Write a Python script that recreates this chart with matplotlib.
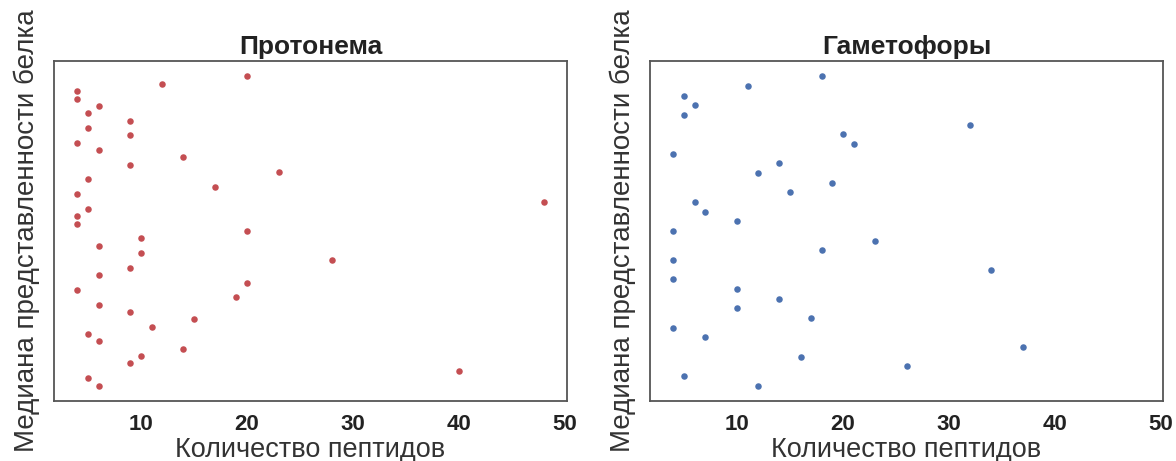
import numpy as np
import matplotlib
matplotlib.use('Agg')
import matplotlib.pyplot as plt

plt.rcParams['font.family'] = ['Liberation Sans', 'DejaVu Sans']

# Number of peptides per protein, listed from top (highest median) to bottom
protonema_peptides = [20, 12, 4, 4, 6, 5, 9, 5, 9, 4, 6, 14, 9, 23, 5, 17, 4, 48,
                      5, 4, 4, 20, 10, 6, 10, 28, 9, 6, 20, 4, 19, 6, 9, 15, 11,
                      5, 6, 14, 10, 9, 40, 5, 6]
gametophore_peptides = [18, 11, 5, 6, 5, 32, 20, 21, 4, 14, 12, 19, 15, 6, 7, 10,
                        4, 23, 18, 4, 34, 4, 10, 14, 10, 17, 4, 7, 37, 16, 26, 5, 12]

titles = ['Протонема', 'Гаметофоры']
colors = ['#C44E52', '#4C72B0']
xticks = [10, 20, 30, 40, 50]

fig = plt.figure(figsize=(11.76, 4.61), dpi=100)
ax_left = fig.add_axes([54 / 1176, 60 / 461, 513 / 1176, 340 / 461])
ax_right = fig.add_axes([650 / 1176, 60 / 461, 513 / 1176, 340 / 461], sharex=ax_left)

for ax, peptides, title, color in zip([ax_left, ax_right],
                                      [protonema_peptides, gametophore_peptides],
                                      titles, colors):
    # rank of the protein along the (unlabelled) median axis
    ranks = np.arange(len(peptides))
    ax.scatter(peptides, ranks, s=22, color=color, linewidths=0)
    ax.invert_yaxis()
    ax.set_yticks([])
    ax.set_xticks(xticks)
    ax.tick_params(axis='x', length=0, pad=9, labelsize=16)
    for lbl in ax.get_xticklabels():
        lbl.set_fontweight('bold')
        lbl.set_color('#222222')
    ax.set_title(title, fontsize=19, fontweight='bold', color='#222222', pad=5)
    ax.set_xlabel('Количество пептидов', fontsize=19.5, color='#333333', labelpad=2)
    ax.set_ylabel('Медиана представленности белка', fontsize=20, color='#333333', labelpad=10)
    for spine in ax.spines.values():
        spine.set_color('#555555')
        spine.set_linewidth(1.3)

fig.savefig('out.png', dpi=100)
